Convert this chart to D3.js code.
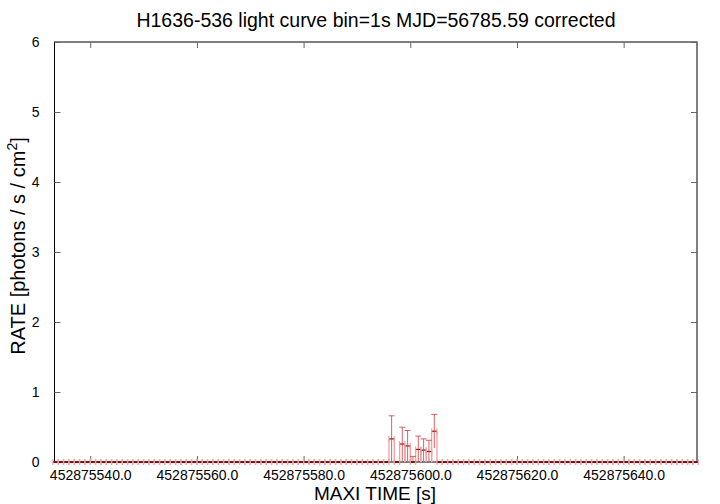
<!DOCTYPE html>
<html><head><meta charset="utf-8">
<script src="https://cdn.jsdelivr.net/npm/d3@7"></script>
<style>body{margin:0;background:#fff}svg{display:block}text{font-family:"Liberation Sans",Arial,sans-serif}</style>
</head><body><svg id="c" width="720" height="504"></svg>
<script>
const T0 = 452875000;
// nonzero bins: time offset (bin center, s from T0), rate, error
const binTimes = [596.5, 598.5, 599.5, 600.5, 601.5, 602.5, 603.5, 604.5];
const binRates = [0.33, 0.257, 0.23, 0.0, 0.18, 0.17, 0.15, 0.44];
const binErrs  = [0.33, 0.24, 0.22, 0.08, 0.19, 0.16, 0.16, 0.24];
const xTickVals = [540, 560, 580, 600, 620, 640];
const yTickVals = [0, 1, 2, 3, 4, 5, 6];
const xDomain = [533.3, 653.75];
const yDomain = [0, 6];
const binStart = 533, binEnd = 654;

const svg = d3.select("#c");
const m = {l:54.5, r:697, t:42, b:462};
const x = d3.scaleLinear().domain(xDomain).range([m.l, m.r]);
const y = d3.scaleLinear().domain(yDomain).range([m.b, m.t]);

const bins = [];
for (let t = binStart; t < binEnd; t++) {
  const c = t + 0.5;
  const i = binTimes.indexOf(c);
  bins.push({t:c, v: i>=0 ? binRates[i] : 0, e: i>=0 ? binErrs[i] : 0});
}

// title
svg.append("text").attr("x",376).attr("y",27).attr("text-anchor","middle")
  .attr("font-size",19.5).text("H1636-536 light curve bin=1s MJD=56785.59 corrected");

// frame
svg.append("rect").attr("x",m.l).attr("y",m.t).attr("width",m.r-m.l).attr("height",m.b-m.t)
  .attr("fill","none").attr("stroke","#000").attr("stroke-width",1);

// axes
const xAxB = d3.axisBottom(x).tickValues(xTickVals).tickSize(-6).tickPadding(8)
  .tickFormat(d => (T0 + d).toFixed(1));
const gxb = svg.append("g").attr("transform",`translate(0,${m.b})`).call(xAxB);
const xAxT = d3.axisTop(x).tickValues(xTickVals).tickSize(-6).tickFormat("");
const gxt = svg.append("g").attr("transform",`translate(0,${m.t})`).call(xAxT);
const yAxL = d3.axisLeft(y).tickValues(yTickVals).tickSize(-6).tickPadding(15).tickFormat(d3.format("d"));
const gyl = svg.append("g").attr("transform",`translate(${m.l},0)`).call(yAxL);
const yAxR = d3.axisRight(y).tickValues(yTickVals).tickSize(-6).tickFormat("");
const gyr = svg.append("g").attr("transform",`translate(${m.r},0)`).call(yAxR);
[gxb,gxt,gyl,gyr].forEach(g=>{
  g.select(".domain").remove();
  g.selectAll(".tick line").attr("stroke","#666");
  g.selectAll("text").attr("font-size",14).attr("fill","#000").attr("font-family","Liberation Sans, Arial, sans-serif");
});
gxb.selectAll("text").attr("dy","0.71em");

// data
const pink = "#f2a0a0", dark = "#7a1010", red = "#d43a3a";
const nz = bins.filter(d=>d.v>0);
svg.append("g").selectAll("path").data(nz).join("path")
  .attr("d", d => `M${x(d.t-0.5)},${y(0)}V${y(d.v)}M${x(d.t+0.5)},${y(0)}V${y(d.v)}`)
  .attr("stroke",pink).attr("stroke-width",1.3).attr("fill","none");
// values: dark red horizontal at each bin
svg.append("g").selectAll("path").data(bins).join("path")
  .attr("d", d => `M${x(d.t-0.5)},${y(d.v)}H${x(d.t+0.5)}`)
  .attr("stroke",dark).attr("stroke-width", d=> d.v>0 ? 1.2 : 2);
// x-error caps at bin edges
svg.append("g").selectAll("path").data(bins).join("path")
  .attr("d", d => `M${x(d.t-0.5)},${y(d.v)-3}v6M${x(d.t+0.5)},${y(d.v)-3}v6`)
  .attr("stroke",pink).attr("stroke-width",1.3).attr("opacity",0.9);
// y error bars
const eb = bins.filter(d=>d.e>0);
svg.append("g").selectAll("path").data(eb).join("path")
  .attr("d", d => {
    const hi = y(d.v+d.e), lo = y(Math.max(0,d.v-d.e)), xc = x(d.t);
    return `M${xc},${lo}V${hi}M${xc-3},${hi}h6`;
  })
  .attr("stroke",red).attr("stroke-width",1).attr("fill","none").attr("opacity",0.8);

// axis labels
svg.append("text").attr("x",375).attr("y",500).attr("text-anchor","middle")
  .attr("font-size",19).text("MAXI TIME [s]");
const yl = svg.append("text").attr("transform","translate(25,246) rotate(-90)")
  .attr("text-anchor","middle").attr("font-size",20);
yl.append("tspan").text("RATE [photons / s / cm");
yl.append("tspan").attr("dy",-8).attr("font-size",14).text("2");
yl.append("tspan").attr("dy",8).text("]");
</script></body></html>
